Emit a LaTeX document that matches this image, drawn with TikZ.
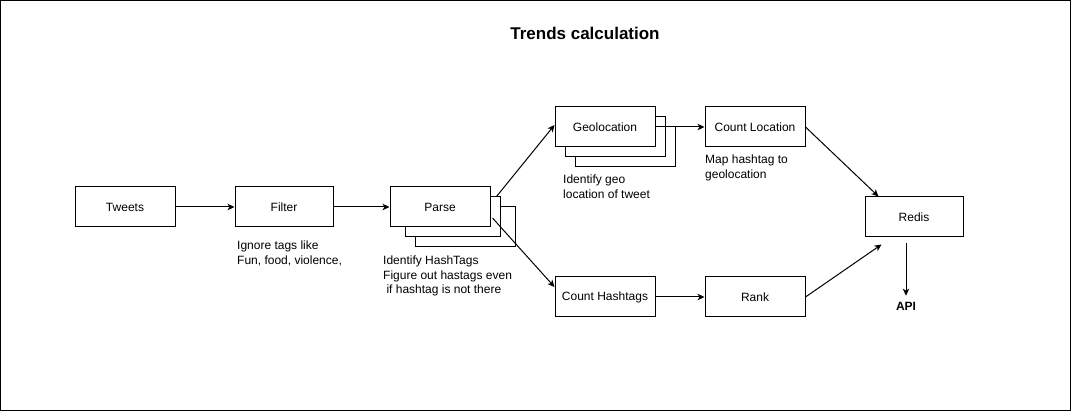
\documentclass[tikz,border=0pt]{standalone}
\usepackage{fontspec}
\setmainfont{Liberation Sans}
\usetikzlibrary{arrows.meta}

\tikzset{
  box/.style={draw,line width=1pt,fill=white,minimum width=100pt,minimum height=40pt,
    inner sep=0pt,font=\fontsize{12}{14.4}\selectfont},
  copybox/.style={draw,line width=1pt,fill=white},
  note/.style={anchor=north west,align=left,inner sep=0pt,font=\fontsize{12}{14.4}\selectfont},
  arr/.style={line width=1pt,-{Stealth[length=7pt,width=6.5pt,inset=2pt]}},
}

\begin{document}
\begin{tikzpicture}[x=1pt,y=-1pt]
  \useasboundingbox (0,0) rectangle (1071,411);
  \draw[line width=1pt] (0.5,0.5) rectangle (1070.5,410.5);

  \node[font=\fontsize{17}{20}\selectfont\bfseries] (title) at (585,33) {Trends calculation};

  % first row
  \node[box] (tweets) at (125,207) {Tweets};
  \node[box,minimum width=98pt] (filter) at (284,207) {Filter};

  % stacked parse boxes
  \draw[copybox] (415,207) rectangle (515,247);
  \draw[copybox] (405,197) rectangle (500,237);
  \node[box] (parse) at (440,207) {Parse};

  % stacked geolocation boxes
  \draw[copybox] (575,127) rectangle (675,167);
  \draw[copybox] (565,117) rectangle (665,157);
  \node[box] (geo) at (605,127) {Geolocation};

  \node[box] (loc) at (755,127) {Count Location};
  \node[box] (hash) at (605,297) {Count Hashtags};
  \node[box] (rank) at (755,297) {Rank};
  \node[box,minimum width=98pt] (redis) at (914,217) {Redis};
  \node[font=\fontsize{12}{14.4}\selectfont\bfseries,inner sep=0pt] (api) at (906,306) {API};

  % notes under the boxes
  \node[note] (filternote) at (237,241) {Ignore tags like\\Fun, food, violence,};
  \node[note] (parsenote) at (383,256) {Identify HashTags\\Figure out hastags even\\\ if hashtag is not there};
  \node[note] (geonote) at (563,175) {Identify geo\\location of tweet};
  \node[note] (locnote) at (705,155) {Map hashtag to\\geolocation};

  % connectors
  \draw[arr] (tweets) -- (filter);
  \draw[arr] (filter) -- (parse);
  \draw[arr] ([shift={(6,10)}]parse.north east) -- ([shift={(0,-2)}]geo.west);
  \draw[arr] ([shift={(2,11)}]parse.east) -- ([shift={(0,-10)}]hash.west);
  \draw[arr] (geo) -- (loc);
  \draw[arr] (hash) -- (rank);
  \draw[arr] (loc.east) -- ([xshift=14pt]redis.north west);
  \draw[arr] (rank.east) -- ([shift={(17,7)}]redis.south west);
  \draw[arr] ([shift={(-8,6)}]redis.south) -- ([yshift=6pt]api.north);
\end{tikzpicture}
\end{document}
